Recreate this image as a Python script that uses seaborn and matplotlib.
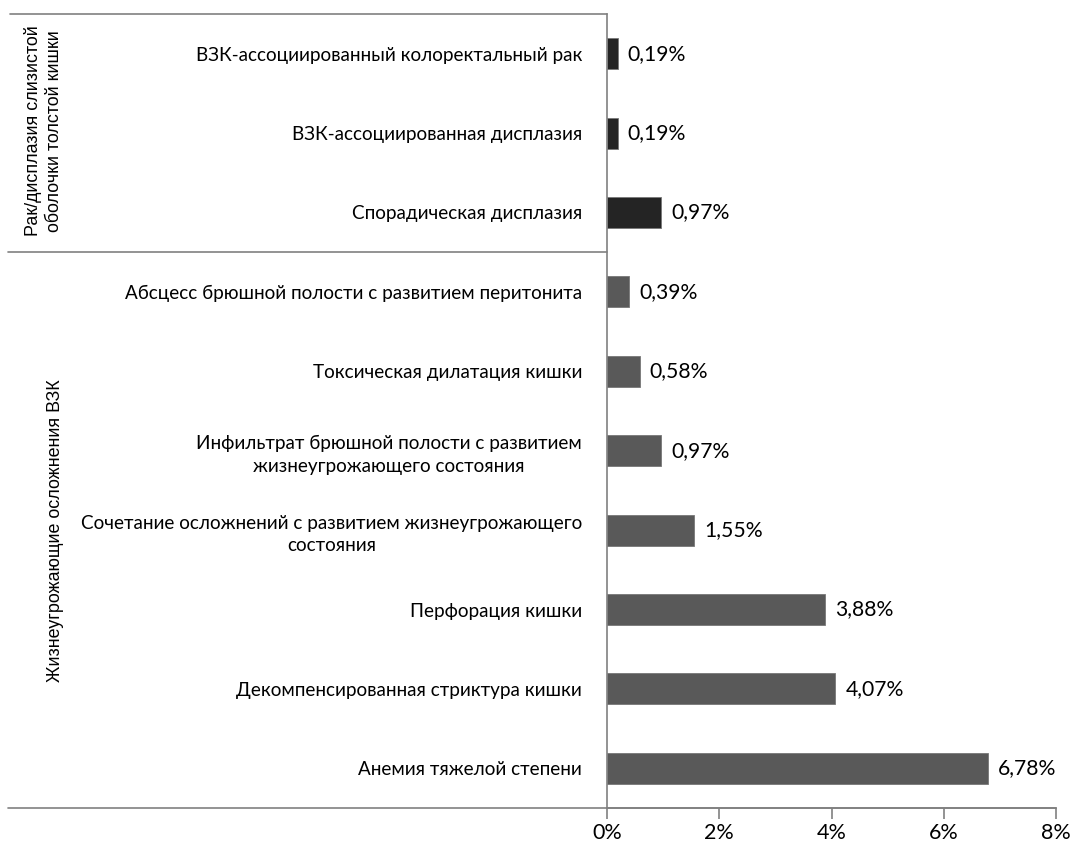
import matplotlib
matplotlib.use("Agg")
import matplotlib.pyplot as plt
import seaborn as sns
import pandas as pd

categories = [
    "ВЗК-ассоциированный колоректальный рак",
    "ВЗК-ассоциированная дисплазия",
    "Спорадическая дисплазия",
    "Абсцесс брюшной полости с развитием перитонита",
    "Токсическая дилатация кишки",
    "Инфильтрат брюшной полости с развитием\nжизнеугрожающего состояния",
    "Сочетание осложнений с развитием жизнеугрожающего\nсостояния",
    "Перфорация кишки",
    "Декомпенсированная стриктура кишки",
    "Анемия тяжелой степени",
]
values = [0.19, 0.19, 0.97, 0.39, 0.58, 0.97, 1.55, 3.88, 4.07, 6.78]
groups = ["g1"] * 3 + ["g2"] * 7
group_labels = ["Рак/дисплазия слизистой\nоболочки толстой кишки",
                "Жизнеугрожающие осложнения ВЗК"]
x_ticks = [0, 2, 4, 6, 8]
x_tick_labels = ["0%", "2%", "4%", "6%", "8%"]

df = pd.DataFrame({"cat": categories, "val": values, "grp": groups})

sns.set_theme(style="white")
plt.rcParams["font.family"] = ["Lato", "DejaVu Sans"]
plt.rcParams["text.color"] = "black"
plt.rcParams["xtick.labelcolor"] = "black"
plt.rcParams["ytick.labelcolor"] = "black"

fig = plt.figure(figsize=(10.7, 8.48), dpi=100)
ax = fig.add_axes([607 / 1070, 1 - 808 / 848, (1056 - 607) / 1070, (808 - 14) / 848])

palette = {"g1": "#242424", "g2": "#595959"}
sns.barplot(data=df, y="cat", x="val", hue="grp", palette=palette, dodge=False,
            width=0.39, legend=False, ax=ax, saturation=1, orient="h",
            edgecolor="#777777", linewidth=0.6)

ax.set_xlim(0, 8)
ax.set_ylim(len(categories) - 0.5, -0.5)
ax.set_xticks(x_ticks)
ax.set_xticklabels(x_tick_labels, fontsize=15.5, color="black")
ax.set_xlabel("")
ax.set_ylabel("")
ax.set_yticks(range(len(categories)))
ax.set_yticklabels(categories, fontsize=13.6, multialignment="center", linespacing=1.4,
                   color="black")
ax.tick_params(axis="y", length=0, pad=18)
ax.tick_params(axis="x", length=8, width=1.2, color="#808080", direction="out", pad=3, bottom=True)

for s in ["top", "right"]:
    ax.spines[s].set_visible(False)
for s in ["left", "bottom"]:
    ax.spines[s].set_color("#808080")
    ax.spines[s].set_linewidth(1.2)

for i, v in enumerate(values):
    ax.text(v + 0.18, i, f"{v:.2f}%".replace(".", ","), va="center", ha="left", fontsize=15.2,
            color="black")

# extended group lines
left_ext = -(607 - 8) / (1056 - 607) * 8
ax.plot([left_ext, 8], [len(categories) - 0.5] * 2, color="#808080", lw=1.2, clip_on=False)
ax.plot([-(607 - 10) / (1056 - 607) * 8, 0], [-0.5, -0.5], color="#808080", lw=1.2, clip_on=False)
ax.plot([left_ext, 0], [2.5, 2.5], color="#808080", lw=1.2, clip_on=False)

# group labels
fig.text(43.5 / 1070, 1 - 131 / 848, group_labels[0], rotation=90, ha="center", va="center",
         fontsize=12.9, multialignment="center", family="Liberation Sans", linespacing=1.35,
         color="black")
fig.text(56 / 1070, 1 - 531 / 848, group_labels[1], rotation=90, ha="center", va="center",
         fontsize=12.9, family="Liberation Sans", color="black")

fig.savefig("out.png", dpi=100)
